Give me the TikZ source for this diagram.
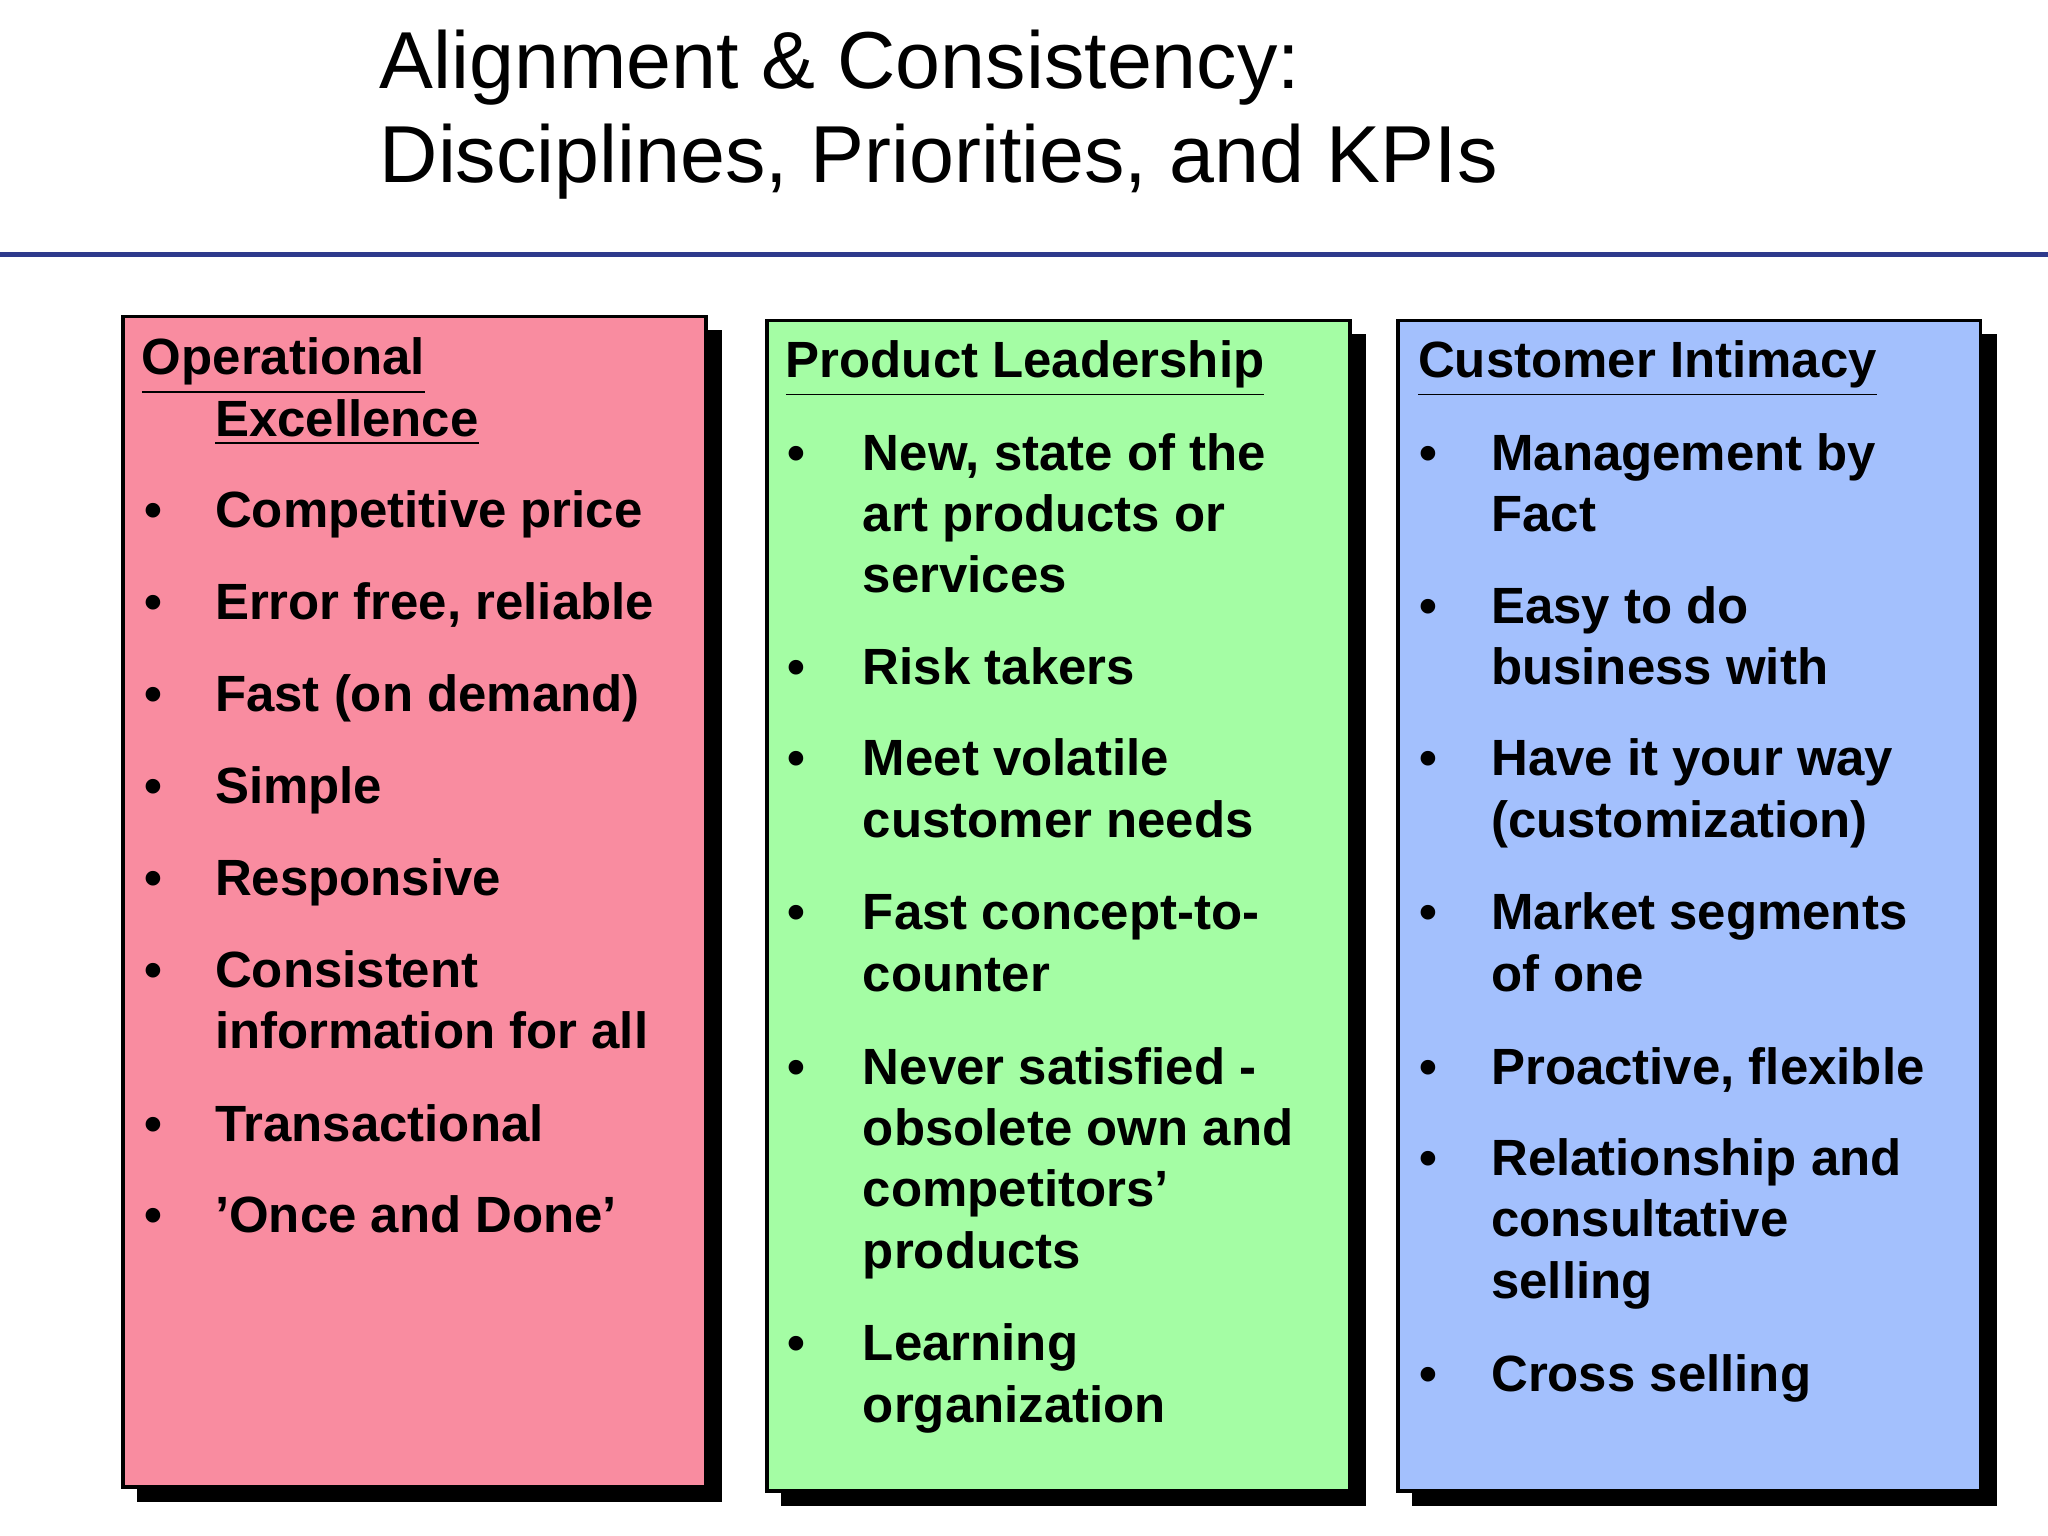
\documentclass[tikz,border=0pt]{standalone}
\usepackage{fontspec}
\setmainfont{Liberation Sans}
\definecolor{opred}{HTML}{F98CA0}
\definecolor{plgreen}{HTML}{A4FDA4}
\definecolor{ciblue}{HTML}{A3C0FD}
\definecolor{navy}{HTML}{2E3A8C}
\tikzset{
  panel/.style={draw=black, line width=0.8pt},
  shade/.style={fill=black},
  tx/.style={anchor=base west, inner sep=0pt, font=\fontsize{11.1}{13}\selectfont\bfseries},
  ttl/.style={anchor=base west, inner sep=0pt, font=\fontsize{17.6}{20}\selectfont},
}
\newcommand\tline[4]{\node[tx] (#1) at (#2/100,-#3/100) {#4};}
\begin{document}
\begin{tikzpicture}
\useasboundingbox (0,0) rectangle (15.68,-11.76);
\fill[white] (0,0) rectangle (15.68,-11.76);
\node[ttl] (t1) at (2.9,-0.68) {Alignment \& Consistency:};
\node[ttl] (t2) at (2.9,-1.40) {Disciplines, Priorities, and KPIs};
\draw[navy, line width=1.2pt] (0,-1.95) -- (15.68,-1.95);
% shadows
\fill[shade] (1.05,-2.53) rectangle (5.53,-11.50);
\fill[shade] (5.98,-2.56) rectangle (10.46,-11.53);
\fill[shade] (10.81,-2.56) rectangle (15.29,-11.53);
% panels
\node[panel, fill=opred, minimum width=4.46cm, minimum height=8.96cm, anchor=north west] (red) at (0.93,-2.41) {};
\node[panel, fill=plgreen, minimum width=4.46cm, minimum height=8.96cm, anchor=north west] (green) at (5.86,-2.44) {};
\node[panel, fill=ciblue, minimum width=4.46cm, minimum height=8.96cm, anchor=north west] (blue) at (10.69,-2.44) {};
% red
\tline{r0}{108}{287}{\underline{Operational}}
\tline{r0b}{164}{334}{\underline{Excellence}}
\foreach \y/\t [count=\i] in {404/Competitive price, 474/{Error free, reliable}, 545/Fast (on demand), 615/Simple, 686/Responsive, 756/Consistent, 874/Transactional, 944/'Once and Done'}{
  \node[tx] (rb\i) at (1.10,-\y/100) {•};
  \node[tx] (rt\i) at (1.64,-\y/100) {\t};
}
\tline{r6b}{164}{803}{information for all}
% green
\tline{g0}{601}{289}{\underline{Product Leadership}}
\foreach \y [count=\i] in {360,524,594,712,830,1042}{\node[tx] (gb\i) at (6.02,-\y/100) {•};}
\tline{g1}{660}{360}{New, state of the}
\tline{g2}{660}{407}{art products or}
\tline{g3}{660}{454}{services}
\tline{g4}{660}{524}{Risk takers}
\tline{g5}{660}{594}{Meet volatile}
\tline{g6}{660}{641}{customer needs}
\tline{g7}{660}{712}{Fast concept-to-}
\tline{g8}{660}{759}{counter}
\tline{g9}{660}{830}{Never satisfied -}
\tline{g10}{660}{877}{obsolete own and}
\tline{g11}{660}{924}{competitors'}
\tline{g12}{660}{971}{products}
\tline{g13}{660}{1042}{Learning}
\tline{g14}{660}{1089}{organization}
% blue
\tline{b0}{1085}{289}{\underline{Customer Intimacy}}
\foreach \y [count=\i] in {360,477,594,712,830,900,1065}{\node[tx] (bb\i) at (10.86,-\y/100) {•};}
\tline{b1}{1141}{360}{Management by}
\tline{b2}{1141}{407}{Fact}
\tline{b3}{1141}{477}{Easy to do}
\tline{b4}{1141}{524}{business with}
\tline{b5}{1141}{594}{Have it your way}
\tline{b6}{1141}{641}{(customization)}
\tline{b7}{1141}{712}{Market segments}
\tline{b8}{1141}{759}{of one}
\tline{b9}{1141}{830}{Proactive, flexible}
\tline{b10}{1141}{900}{Relationship and}
\tline{b11}{1141}{947}{consultative}
\tline{b12}{1141}{994}{selling}
\tline{b13}{1141}{1065}{Cross selling}
\end{tikzpicture}
\end{document}
